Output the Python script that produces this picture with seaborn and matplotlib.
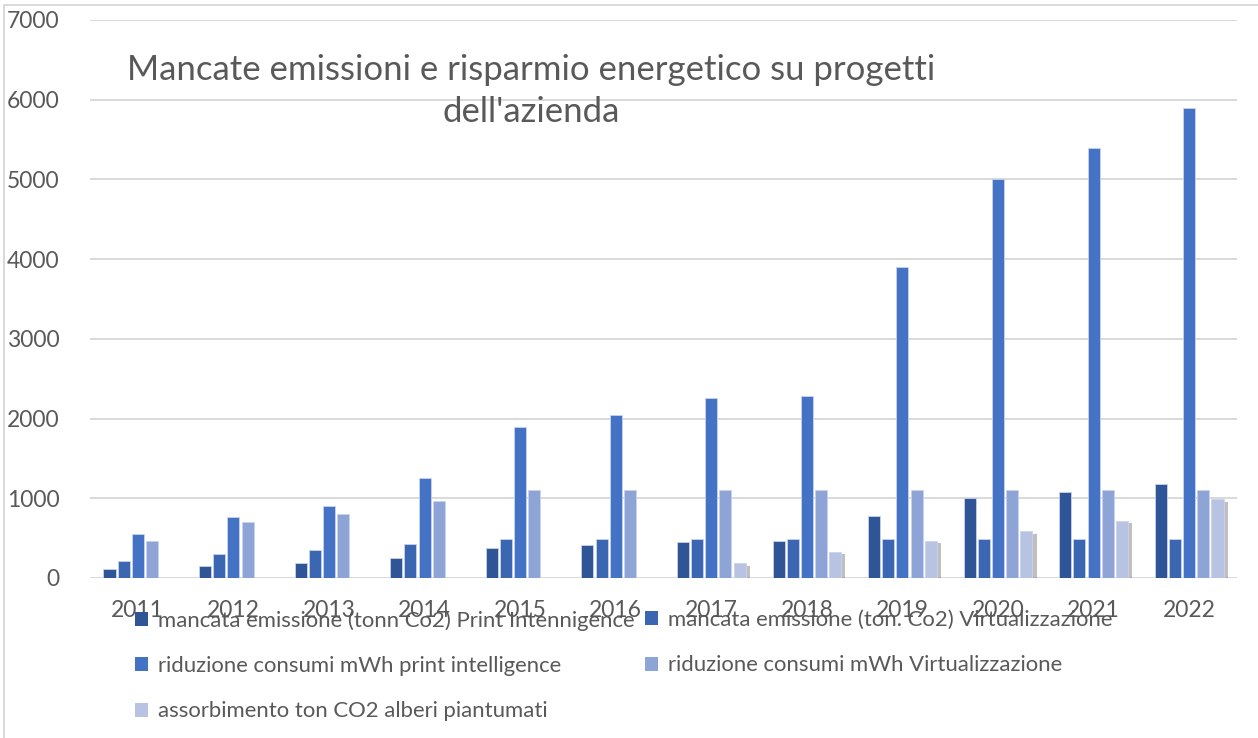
import pandas as pd
import matplotlib
matplotlib.use("Agg")
import matplotlib.pyplot as plt
import matplotlib.patheffects as pe
from matplotlib.patches import Patch, Rectangle
import seaborn as sns

anni = ["2011", "2012", "2013", "2014", "2015", "2016",
        "2017", "2018", "2019", "2020", "2021", "2022"]
emiss_print = [110, 150, 190, 250, 380, 410, 450, 460, 780, 1000, 1080, 1180]
emiss_virt = [210, 300, 350, 430, 490, 490, 490, 490, 490, 490, 490, 490]
mwh_print = [550, 760, 900, 1250, 1900, 2040, 2260, 2280, 3900, 5000, 5400, 5900]
mwh_virt = [470, 700, 800, 960, 1100, 1100, 1100, 1100, 1100, 1100, 1100, 1100]
alberi = [0, 0, 0, 0, 0, 0, 185, 330, 470, 590, 720, 990]

serie = ["mancata emissione (tonn Co2) Print Intennigence",
         "mancata emissione (ton. Co2) Virtualizzazione",
         "riduzione consumi mWh print intelligence",
         "riduzione consumi mWh Virtualizzazione",
         "assorbimento ton CO2 alberi piantumati"]
colori = ["#2F5597", "#3A66B2", "#4472C4", "#8FA4D6", "#B8C3E3"]

raw = pd.DataFrame({"Anno": anni, serie[0]: emiss_print, serie[1]: emiss_virt,
                    serie[2]: mwh_print, serie[3]: mwh_virt, serie[4]: alberi})
temp = pd.melt(raw, id_vars=["Anno"], value_vars=serie, var_name="Serie", value_name="Valore")

W, H = 1258, 738
fig = plt.figure(figsize=(W / 100, H / 100), dpi=100)
plt.rcParams['font.family'] = ['Lato', 'DejaVu Sans']
ax = fig.add_axes([90 / W, 1 - 578 / H, (1237 - 90) / W, (578 - 20) / H])

sns.barplot(x="Anno", y="Valore", hue="Serie", data=temp, palette=colori, saturation=1,
            width=0.74, gap=0.15, edgecolor="#C9D3EC", linewidth=0.6,
            legend=False, ax=ax, zorder=3)

# ombra sulle barre degli alberi
for bar in ax.containers[4]:
    bar.set_path_effects([pe.SimplePatchShadow(offset=(3, -2), shadow_rgbFace="0.45", alpha=0.45), pe.Normal()])

ax.set_ylim(0, 7000)
ax.set_yticks(range(0, 7001, 1000))
ax.grid(axis="y", color="#D9D9D9", linewidth=1.4, zorder=0)
ax.set_axisbelow(True)
for s in ax.spines.values():
    s.set_visible(False)
ax.tick_params(axis="both", length=0, labelsize=16.5, colors="#595959")
ax.tick_params(axis="x", pad=16)
ax.tick_params(axis="y", pad=22)
ax.set_xlabel("")
ax.set_ylabel("")

ax.text(441 / (1237 - 90), 1 - (91 - 20) / (578 - 20),
        "Mancate emissioni e risparmio energetico su progetti\ndell'azienda",
        transform=ax.transAxes, ha="center", va="center", fontsize=25,
        color="#595959", linespacing=1.38)

# legenda su due colonne, ordinata per righe
handles = [Patch(facecolor=c) for c in colori]
kw = dict(frameon=False, fontsize=15.9, labelcolor="#595959", loc="upper left",
          borderpad=0, borderaxespad=0, handlelength=0.6, handleheight=0.6,
          handletextpad=0.45, labelspacing=1.15)
leg1 = fig.legend([handles[0], handles[2], handles[4]], [serie[0], serie[2], serie[4]],
                  bbox_to_anchor=(135 / W, 1 - 610 / H), **kw)
leg2 = fig.legend([handles[1], handles[3]], [serie[1], serie[3]],
                  bbox_to_anchor=(645 / W, 1 - 610 / H), **kw)

# cornice esterna
fig.add_artist(Rectangle((4 / W, -0.05), 1.2, 1 - 5 / H + 0.05, transform=fig.transFigure,
                         fill=False, edgecolor="#D9D9D9", linewidth=1.4))

fig.savefig("out.png", dpi=100)
